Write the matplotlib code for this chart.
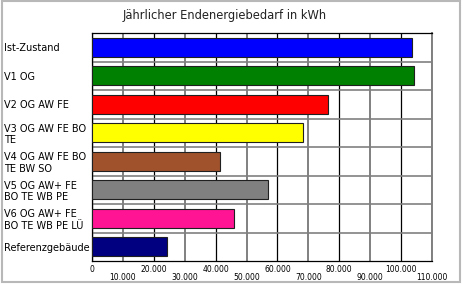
from matplotlib import pyplot as plt
from matplotlib.patches import Rectangle
import numpy as np

# Data
categories = ['Ist-Zustand', 'V1 OG', 'V2 OG AW FE', 'V3 OG AW FE BO\nTE',
              'V4 OG AW FE BO\nTE BW SO', 'V5 OG AW+ FE\nBO TE WB PE',
              'V6 OG AW+ FE\nBO TE WB PE LÜ', 'Referenzgebäude']
values = [103400, 104300, 76500, 68200, 41400, 56800, 46000, 24300]
colors = ['#0000ff', '#008000', '#ff0000', '#ffff00', '#a0522d', '#808080',
          '#ff1493', '#000080']
major_ticks = [0, 20000, 40000, 60000, 80000, 100000]
minor_ticks = [10000, 30000, 50000, 70000, 90000, 110000]
major_labels = ['0', '20.000', '40.000', '60.000', '80.000', '100.000']
minor_labels = ['10.000', '30.000', '50.000', '70.000', '90.000', '110.000']
title = 'Jährlicher Endenergiebedarf in kWh'

plt.rcParams['font.family'] = 'DejaVu Sans'

fig = plt.figure(figsize=(4.63, 2.84), dpi=100)
ax = fig.add_axes([92/463, 1-261/284, 340/463, 228/284])

pos = np.arange(len(categories))
ax.barh(pos, values, height=0.67, color=colors, edgecolor='#202020',
        linewidth=0.8, zorder=3)

ax.set_xlim(0, 110000)
ax.set_ylim(len(categories) - 0.5, -0.5)

# x ticks: staggered labels
ax.set_xticks(major_ticks, major_labels)
ax.set_xticks(minor_ticks, minor_labels, minor=True)
ax.tick_params(axis='x', which='major', length=0, pad=3, labelsize=5.5)
ax.tick_params(axis='x', which='minor', length=0, pad=9, labelsize=5.5)

# y ticks: left aligned category labels
ax.set_yticks(pos, categories)
ax.set_yticks(pos[:-1] + 0.5, minor=True)
ax.tick_params(axis='y', which='both', length=0)
ax.tick_params(axis='y', which='major', pad=63.4, labelsize=7.0)
for lab in ax.get_yticklabels():
    lab.set_ha('left')
    lab.set_linespacing(1.2)

ax.grid(axis='x', which='major', color='black', linewidth=0.9, zorder=1)
ax.grid(axis='x', which='minor', color='#808080', linewidth=1.4, zorder=1)
ax.grid(axis='y', which='minor', color='#808080', linewidth=1.2, zorder=1)
ax.set_axisbelow(True)

for side in ['left', 'top', 'bottom']:
    ax.spines[side].set_color('black')
    ax.spines[side].set_linewidth(0.9)
ax.spines['right'].set_color('#808080')
ax.spines['right'].set_linewidth(1.4)

fig.text(225/463, 1-16/284, title, ha='center', va='center', fontsize=8.3,
         color='#222222')

# outer frame
fig.patches.append(Rectangle((0.004, 0.006), 0.99, 0.99, transform=fig.transFigure,
                             fill=False, edgecolor='#b8b8b8', linewidth=1.5))

fig.savefig('out.png', dpi=100)
